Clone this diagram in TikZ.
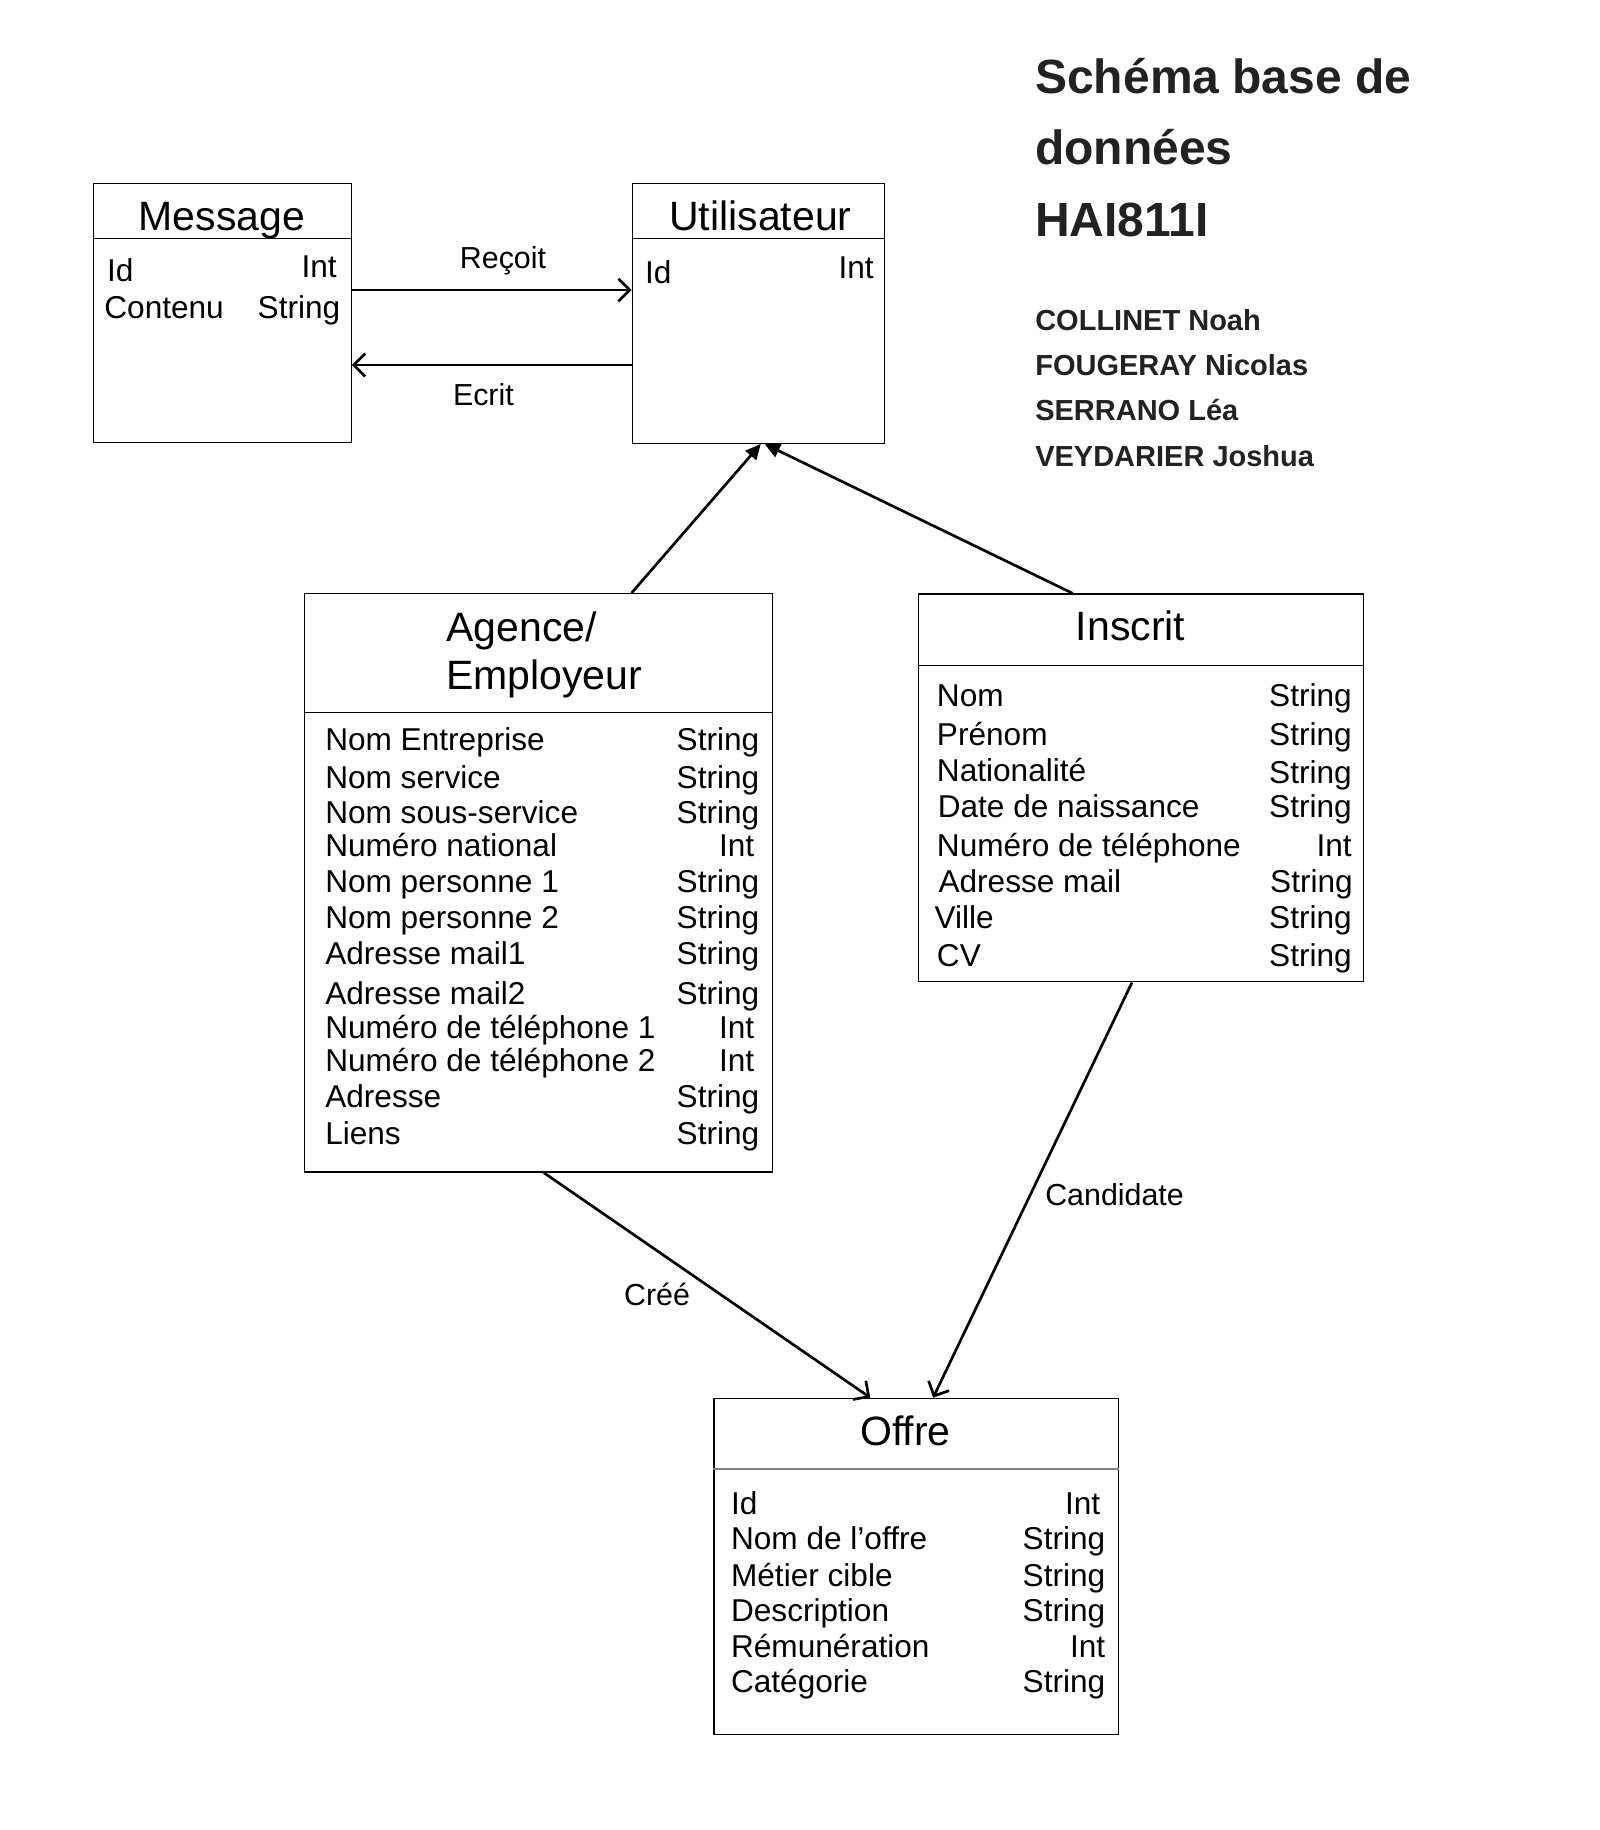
\documentclass[tikz,border=0pt]{standalone}
\usepackage{fontspec}
\setmainfont{Liberation Sans}
\usetikzlibrary{arrows.meta,calc,fit}
\definecolor{titlegray}{HTML}{222222}
\begin{document}
\begin{tikzpicture}[x=0.75pt,y=-0.75pt,
  box/.style={draw=black, line width=1pt, inner sep=0pt},
  hdr/.style={draw=black, line width=1pt},
  ttl/.style={font=\fontsize{30.75pt}{36pt}\selectfont, inner sep=0pt, anchor=base},
  attr/.style={font=\fontsize{23.7pt}{27pt}\selectfont, inner sep=0pt, anchor=base west},
  typ/.style={font=\fontsize{23.7pt}{27pt}\selectfont, inner sep=0pt, anchor=base east},
  lbl/.style={font=\fontsize{22.8pt}{27pt}\selectfont, inner sep=0pt, anchor=base},
  bigtitle/.style={font=\bfseries\fontsize{36pt}{40pt}\selectfont, text=titlegray, inner sep=0pt, anchor=base west},
  author/.style={font=\bfseries\fontsize{21.75pt}{26pt}\selectfont, text=titlegray, inner sep=0pt, anchor=base west},
  openarr/.style={line width=2pt, -{Straight Barb[length=8.5pt,width=17pt]}},
  fillarr/.style={line width=2pt, -{Triangle[length=11.5pt,width=10.5pt]}},
]
\fill[white] (0,0) rectangle (1599,1830);
\useasboundingbox (0,0) rectangle (1599,1830);

% ---------- boxes ----------
\coordinate (m1) at (93.4,183.3);  \coordinate (m2) at (351.3,442.4);
\coordinate (u1) at (632.3,183.3); \coordinate (u2) at (884.7,443.3);
\coordinate (g1) at (304.5,593.6); \coordinate (g2) at (772.7,1172);
\coordinate (i1) at (918.5,594);   \coordinate (i2) at (1363.3,981.8);
\coordinate (o1) at (714,1398.3);  \coordinate (o2) at (1118.2,1734.5);

\node[box, fit=(m1)(m2)] (message) {};
\node[box, fit=(u1)(u2)] (utilisateur) {};
\node[box, fit=(g1)(g2)] (agence) {};
\node[box, fit=(i1)(i2)] (inscrit) {};
\node[box, fit=(o1)(o2)] (offre) {};

% header separators
\coordinate (hm) at (0,238.8);
\coordinate (hg) at (0,712.5);
\coordinate (hi) at (0,665.5);
\coordinate (ho) at (0,1469);
\draw[hdr] (message.west |- hm) -- (message.east |- hm);
\draw[hdr] (utilisateur.west |- hm) -- (utilisateur.east |- hm);
\draw[hdr] (agence.west |- hg) -- (agence.east |- hg);
\draw[hdr] (inscrit.west |- hi) -- (inscrit.east |- hi);
\draw[draw=black!50, line width=1.5pt] (offre.west |- ho) -- (offre.east |- ho);

% ---------- titles of boxes ----------
\node[ttl] (tmessage) at (221.9,230) {Message};
\node[ttl] (tutil) at (760.4,230) {Utilisateur};
\node[ttl, anchor=base west] (tagence1) at (446,641.2) {Agence/};
\node[ttl, anchor=base west] (tagence2) at (446,689) {Employeur};
\node[ttl] (tinscrit) at (1130.5,640) {Inscrit};
\node[ttl] (toffre) at (905.3,1445) {Offre};

% ---------- Message ----------
\node[attr] (m_id) at (106.8,281.7) {Id};
\node[typ] (m_idt) at (337,277.3) {Int};
\node[attr] (m_co) at (104.1,318.3) {Contenu};
\node[typ] (m_cot) at (340.5,318.3) {String};

% ---------- Utilisateur ----------
\node[attr] (u_id) at (644.8,283.3) {Id};
\node[typ] (u_idt) at (874,278.3) {Int};

% ---------- Agence ----------
\node[attr] (ag1) at (325,750.2) {Nom Entreprise};
\node[typ] (agt1) at (759.5,750.2) {String};
\node[attr] (ag2) at (325,788.4) {Nom service};
\node[typ] (agt2) at (759.5,788.4) {String};
\node[attr] (ag3) at (325,823.6) {Nom sous-service};
\node[typ] (agt3) at (759.5,823.6) {String};
\node[attr] (ag4) at (325,856) {Numéro national};
\node[typ] (agt4) at (754.5,856) {Int};
\node[attr] (ag5) at (325,892.4) {Nom personne 1};
\node[typ] (agt5) at (759.5,892.4) {String};
\node[attr] (ag6) at (325,928.8) {Nom personne 2};
\node[typ] (agt6) at (759.5,928.8) {String};
\node[attr] (ag7) at (325,964.3) {Adresse mail1};
\node[typ] (agt7) at (759.5,964.3) {String};
\node[attr] (ag8) at (325,1004.5) {Adresse mail2};
\node[typ] (agt8) at (759.5,1004.5) {String};
\node[attr] (ag9) at (325,1038.9) {Numéro de téléphone 1};
\node[typ] (agt9) at (754.5,1038.9) {Int};
\node[attr] (ag10) at (325,1071.4) {Numéro de téléphone 2};
\node[typ] (agt10) at (754.5,1071.4) {Int};
\node[attr] (ag11) at (325,1107.7) {Adresse};
\node[typ] (agt11) at (759.5,1107.7) {String};
\node[attr] (ag12) at (325,1144) {Liens};
\node[typ] (agt12) at (759.5,1144) {String};

% ---------- Inscrit ----------
\node[attr] (in1) at (936.7,706.7) {Nom};
\node[typ] (int1) at (1352,706.7) {String};
\node[attr] (in2) at (936.7,745) {Prénom};
\node[typ] (int2) at (1352,745) {String};
\node[attr] (in3) at (936.7,781.7) {Nationalité};
\node[typ] (int3) at (1352,783) {String};
\node[attr] (in4) at (937.5,817.3) {Date de naissance};
\node[typ] (int4) at (1352,817.3) {String};
\node[attr] (in5) at (936.7,856) {Numéro de téléphone};
\node[typ] (int5) at (1352,856) {Int};
\node[attr] (in6) at (938.3,892.7) {Adresse mail};
\node[typ] (int6) at (1353,892.7) {String};
\node[attr] (in7) at (934.3,928.3) {Ville};
\node[typ] (int7) at (1352,928.3) {String};
\node[attr] (in8) at (936.7,966.7) {CV};
\node[typ] (int8) at (1352,966.7) {String};

% ---------- Offre ----------
\node[attr] (of1) at (730.8,1514.8) {Id};
\node[typ] (oft1) at (1100.5,1514.8) {Int};
\node[attr] (of2) at (730.8,1549.8) {Nom de l’offre};
\node[typ] (oft2) at (1105.5,1549.8) {String};
\node[attr] (of3) at (730.8,1586.4) {Métier cible};
\node[typ] (oft3) at (1105.5,1586.4) {String};
\node[attr] (of4) at (730.8,1621.4) {Description};
\node[typ] (oft4) at (1105.5,1621.4) {String};
\node[attr] (of5) at (730.8,1657) {Rémunération};
\node[typ] (oft5) at (1105.5,1657) {Int};
\node[attr] (of6) at (730.8,1692.9) {Catégorie};
\node[typ] (oft6) at (1105.5,1692.9) {String};

% ---------- connectors ----------
\coordinate (yr) at (0,290);
\coordinate (ye) at (0,365);
\draw[openarr] (message.east |- yr) -- (utilisateur.west |- yr);
\draw[openarr] (utilisateur.west |- ye) -- (message.east |- ye);

\draw[fillarr] ($(agence.north west)!0.698!(agence.north east)$) -- ($(utilisateur.south west)!0.509!(utilisateur.south east)$);
\draw[fillarr] ($(inscrit.north west)!0.347!(inscrit.north east)$) -- ($(utilisateur.south west)!0.524!(utilisateur.south east)$);
\draw[openarr] ($(agence.south west)!0.511!(agence.south east)$) -- ($(offre.north west)!0.387!(offre.north east)$);
\draw[openarr] ($(inscrit.south west)!0.480!(inscrit.south east)$) -- ($(offre.north west)!0.542!(offre.north east)$);

% ---------- connector labels ----------
\node[lbl] (lrecoit) at (503,268.3) {Reçoit};
\node[lbl] (lecrit) at (483.4,405) {Ecrit};
\node[lbl] (lcree) at (657,1305) {Créé};
\node[lbl, anchor=base west] (lcand) at (1045,1205) {Candidate};

% ---------- title block ----------
\node[bigtitle] (title1) at (1035,93.3) {Schéma base de};
\node[bigtitle] (title2) at (1035,165) {données};
\node[bigtitle] (title3) at (1035,236.7) {HAI811I};
\node[author] (au1) at (1035,330) {COLLINET Noah};
\node[author] (au2) at (1035,375) {FOUGERAY Nicolas};
\node[author] (au3) at (1035,420.7) {SERRANO Léa};
\node[author] (au4) at (1035,466.7) {VEYDARIER Joshua};
\end{tikzpicture}
\end{document}
